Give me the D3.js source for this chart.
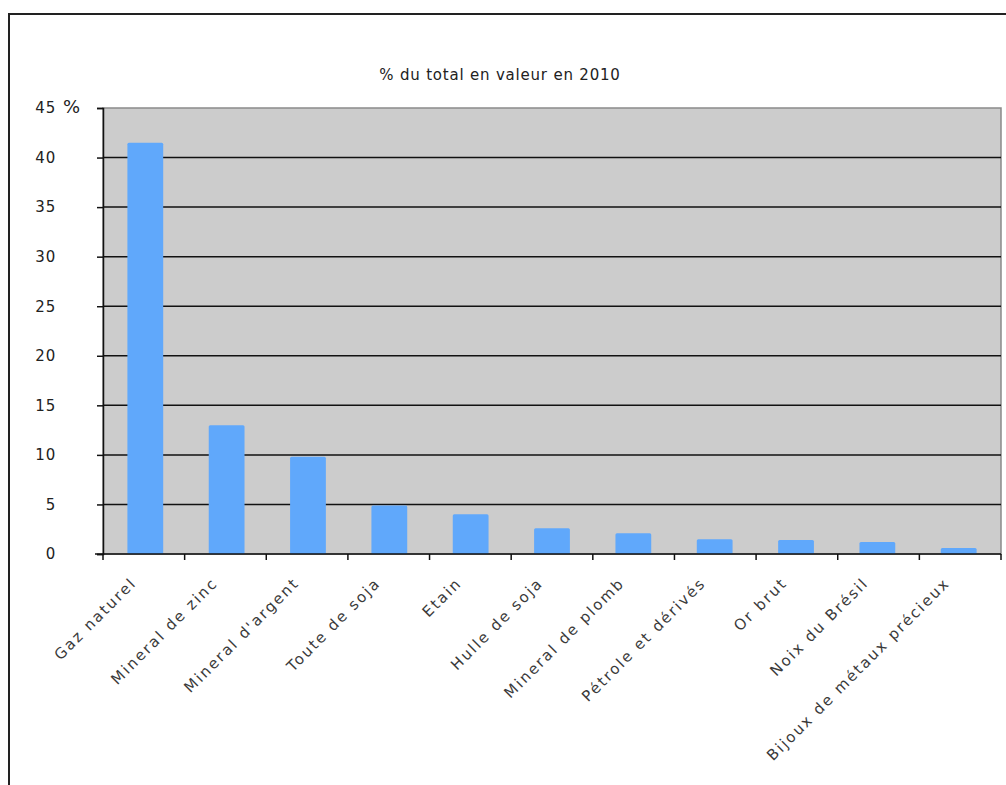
<!DOCTYPE html>
<html><head><meta charset="utf-8">
<script src="https://cdn.jsdelivr.net/npm/d3@7"></script>
<style>body{margin:0;background:#fff;} svg{display:block;font-family:"DejaVu Sans",Verdana,sans-serif;}</style>
</head><body>
<svg id="c" width="1006" height="785"></svg>
<script>
const title = "% du total en valeur en 2010";
const categories = ["Gaz naturel","Mineral de zinc","Mineral d'argent","Toute de soja","Etain","Hulle de soja","Mineral de plomb","Pétrole et dérivés","Or brut","Noix du Brésil","Bijoux de métaux précieux"];
const values = [41.5, 13.0, 9.8, 4.9, 4.0, 2.6, 2.1, 1.5, 1.4, 1.2, 0.6];
const yTicks = [0,5,10,15,20,25,30,35,40,45];

const svg = d3.select("#c");
const L = 103, R = 1001, T = 108, B = 554;

// outer frame
svg.append("path").attr("d","M9,785 V14 H1006").attr("fill","none").attr("stroke","#222").attr("stroke-width",2);

svg.append("text").attr("x",500).attr("y",80).attr("text-anchor","middle")
  .attr("font-size",15).attr("letter-spacing",0.8).attr("fill","#222").text(title);

const x = d3.scaleBand().domain(categories).range([L,R]).paddingInner(0.56).paddingOuter(0.3);
const y = d3.scaleLinear().domain([0,45]).range([B,T]);

svg.append("rect").attr("x",L).attr("y",T).attr("width",R-L).attr("height",B-T)
  .attr("fill","#cccccc").attr("stroke","#8a8a8a").attr("stroke-width",1.5);

// gridlines
svg.append("g").selectAll("line").data(yTicks.filter(d=>d>0 && d<45)).join("line")
  .attr("x1",L).attr("x2",R).attr("y1",d=>y(d)).attr("y2",d=>y(d))
  .attr("stroke","#111").attr("stroke-width",1.5);

// bars
svg.append("g").selectAll("rect").data(values).join("rect")
  .attr("x",(d,i)=>x(categories[i])).attr("width",x.bandwidth())
  .attr("y",d=>y(d)).attr("height",d=>y(0)-y(d))
  .attr("fill","#60a8fb").attr("rx",1.5);

// y axis
const yAxis = svg.append("g").attr("transform",`translate(${L},0)`)
  .call(d3.axisLeft(y).tickValues(yTicks).tickSize(6).tickPadding(41).tickFormat(d3.format("d")));
yAxis.select(".domain").attr("stroke","#111").attr("stroke-width",1.5);
yAxis.selectAll(".tick line").attr("stroke","#111").attr("stroke-width",1.5);
yAxis.selectAll(".tick text").attr("font-size",15).attr("letter-spacing",0.8).attr("fill","#222")
  .attr("font-family","'DejaVu Sans',Verdana,sans-serif");
svg.append("text").attr("x",63).attr("y",y(45)+5).attr("font-size",18).attr("fill","#222").text("%");

// x axis
const bounds = d3.range(categories.length+1).map(i=>L+i*((R-L)/categories.length));
const xg = svg.append("g");
xg.append("line").attr("x1",L-8).attr("x2",R).attr("y1",B).attr("y2",B).attr("stroke","#111").attr("stroke-width",1.5);
xg.selectAll("line.t").data(bounds).join("line").attr("class","t")
  .attr("x1",d=>d).attr("x2",d=>d).attr("y1",B).attr("y2",B+6).attr("stroke","#111").attr("stroke-width",1.5);

svg.append("g").selectAll("text").data(categories).join("text")
  .attr("transform",d=>`translate(${x(d)+x.bandwidth()/2-8},${B+30}) rotate(-45)`)
  .attr("text-anchor","end").attr("font-size",15).attr("letter-spacing",2)
  .attr("fill","#3a3a3a").text(d=>d);
</script>
</body></html>
